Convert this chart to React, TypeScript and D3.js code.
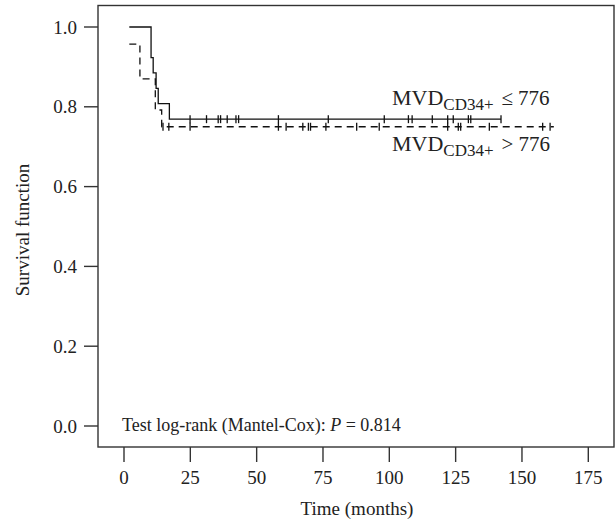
import React from "react";
import * as d3 from "d3";

const xTicks = [0, 25, 50, 75, 100, 125, 150, 175];
const yTicks = [0, 0.2, 0.4, 0.6, 0.8, 1.0];

// MVD <= 776 (solid)
const lowTimes = [2, 10.2, 11, 12.1, 12.9, 17.1, 142.1];
const lowSurv = [1, 0.923, 0.885, 0.846, 0.808, 0.769, 0.769];
const lowCensor = [24.9, 31.1, 35.5, 36.4, 38.9, 42.2, 43.2, 58.2, 77.0, 98.1, 107.2, 108.6, 116.2, 122.0, 124.1, 129.8, 130.7, 142.1];

// MVD > 776 (dashed)
const highTimes = [2, 6, 11.8, 14.2, 162];
const highSurv = [0.957, 0.87, 0.792, 0.75, 0.75];
const highCensor = [14.7, 16.9, 24.9, 58.2, 61.1, 67.4, 69.5, 70.3, 76.1, 87.7, 96.2, 122.0, 126.0, 126.9, 137.7, 157.8, 160.6];

const W = 616;
const H = 525;
const FONT = "'Liberation Serif', 'Times New Roman', serif";

export default function App() {
  const x = d3.scaleLinear().domain([0, 175]).range([124, 588.3]);
  const y = d3.scaleLinear().domain([0, 1]).range([426, 27]);
  const box = { x0: 98, x1: 614, y0: 5.5, y1: 447 };

  const stepLine = d3
    .line<[number, number]>()
    .x((d) => x(d[0]))
    .y((d) => y(d[1]))
    .curve(d3.curveStepAfter);

  const lowPts = lowTimes.map((t, i) => [t, lowSurv[i]] as [number, number]);
  const highPts = highTimes.map((t, i) => [t, highSurv[i]] as [number, number]);

  const survAt = (times: number[], surv: number[], t: number) => {
    let s = surv[0];
    for (let i = 0; i < times.length; i++) if (times[i] <= t) s = surv[i];
    return s;
  };

  return (
    <svg width={W} height={H} style={{ position: "absolute", left: 0, top: 0, background: "#fff" }}>
      <rect x={box.x0} y={box.y0} width={box.x1 - box.x0} height={box.y1 - box.y0} fill="none" stroke="#333" strokeWidth={1.4} />
      {yTicks.map((v) => (
        <g key={"y" + v}>
          <line x1={84} x2={box.x0} y1={y(v)} y2={y(v)} stroke="#333" strokeWidth={1.4} />
          <text x={77} y={y(v)} dy="0.35em" textAnchor="end" fontFamily={FONT} fontSize={19} fill="#222">
            {v.toFixed(1)}
          </text>
        </g>
      ))}
      {xTicks.map((v) => (
        <g key={"x" + v}>
          <line x1={x(v)} x2={x(v)} y1={box.y1} y2={462} stroke="#333" strokeWidth={1.4} />
          <text x={x(v)} y={484} textAnchor="middle" fontFamily={FONT} fontSize={19} fill="#222">
            {v}
          </text>
        </g>
      ))}
      <text x={357} y={515} textAnchor="middle" fontFamily={FONT} fontSize={19} fill="#222">
        Time (months)
      </text>
      <text transform="translate(29,230) rotate(-90)" textAnchor="middle" fontFamily={FONT} fontSize={19} fill="#222">
        Survival function
      </text>

      <path d={stepLine(lowPts) || ""} fill="none" stroke="#111" strokeWidth={1.3} />
      <path d={stepLine(highPts) || ""} fill="none" stroke="#111" strokeWidth={1.3} strokeDasharray="7,5" />
      {lowCensor.map((t, i) => {
        const yy = y(survAt(lowTimes, lowSurv, t));
        return <line key={"lc" + i} x1={x(t)} x2={x(t)} y1={yy - 4} y2={yy + 4} stroke="#111" strokeWidth={1.3} />;
      })}
      {highCensor.map((t, i) => {
        const yy = y(survAt(highTimes, highSurv, t));
        return <line key={"hc" + i} x1={x(t)} x2={x(t)} y1={yy - 4} y2={yy + 4} stroke="#111" strokeWidth={1.3} />;
      })}

      <text x={392} y={105} fontFamily={FONT} fontSize={21} fill="#222">
        <tspan fontSize={22}>MVD</tspan>
        <tspan dy={5} fontSize={17}>CD34+</tspan>
        <tspan dy={-5} dx={8}>≤</tspan>
        <tspan dx={5}>776</tspan>
      </text>
      <text x={392} y={151} fontFamily={FONT} fontSize={21} fill="#222">
        <tspan fontSize={22}>MVD</tspan>
        <tspan dy={5} fontSize={17}>CD34+</tspan>
        <tspan dy={-5} dx={8}>&gt;</tspan>
        <tspan dx={5}>776</tspan>
      </text>

      <text x={122} y={431} fontFamily={FONT} fontSize={18} fill="#222">
        Test log-rank (Mantel-Cox): <tspan fontStyle="italic">P</tspan> = 0.814
      </text>
    </svg>
  );
}
